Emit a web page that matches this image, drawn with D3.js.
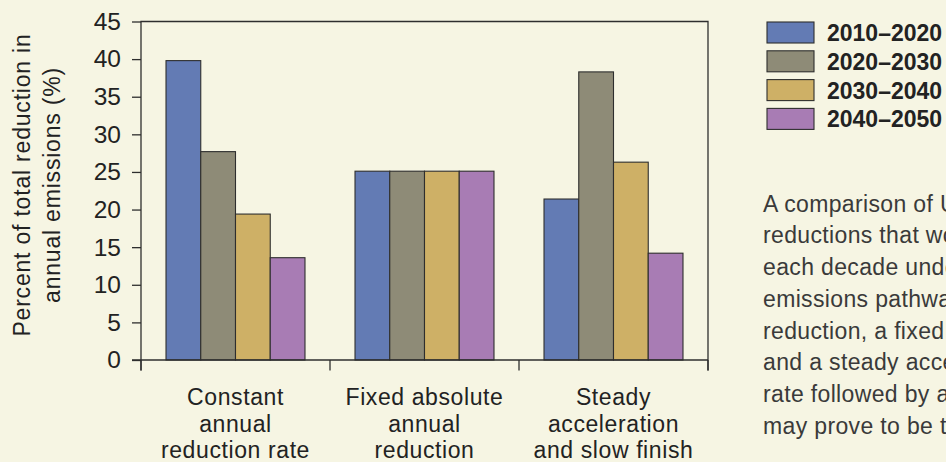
<!DOCTYPE html>
<html>
<head>
<meta charset="utf-8">
<script src="https://cdn.jsdelivr.net/npm/d3@7/dist/d3.min.js"></script>
<style>
  html, body { margin: 0; padding: 0; background: #f6f5e3; overflow: hidden; }
  svg { display: block; }
  text { font-family: "Liberation Sans", Arial, Helvetica, sans-serif; }
</style>
</head>
<body>
<svg id="chart" width="946" height="462"></svg>
<script>
// ---- data ----
const categories = [
  ["Constant", "annual", "reduction rate"],
  ["Fixed absolute", "annual", "reduction"],
  ["Steady", "acceleration", "and slow finish"]
];
const categoryKeys = ["Constant annual reduction rate", "Fixed absolute annual reduction", "Steady acceleration and slow finish"];
const series = ["2010–2020", "2020–2030", "2030–2040", "2040–2050"];
const values2010 = [39.8, 25.1, 21.4];
const values2020 = [27.7, 25.1, 38.3];
const values2030 = [19.4, 25.1, 26.3];
const values2040 = [13.6, 25.1, 14.2];
const yTicks = [0, 5, 10, 15, 20, 25, 30, 35, 40, 45];
const yTitle = ["Percent of total reduction in", "annual emissions (%)"];
const caption = [
  "A comparison of U.S. emissions",
  "reductions that would be needed",
  "each decade under three",
  "emissions pathways: constant",
  "reduction, a fixed absolute amount,",
  "and a steady acceleration of the",
  "rate followed by a slow finish that",
  "may prove to be the most realistic."
];
const colors = ["#637bb4", "#8e8b77", "#ceb066", "#a87cb4"];

const seriesValues = [values2010, values2020, values2030, values2040];

// ---- layout ----
const svg = d3.select("#chart");
const W = 946, H = 462;
const mLeft = 141, mRight = 708, mTop = 21.5, mBottom = 360;
const ink = "#2e2e2e";

svg.append("rect").attr("width", W).attr("height", H).attr("fill", "#f6f5e3");

const x0 = d3.scaleBand().domain(categoryKeys).range([mLeft, mRight]).paddingInner(0).paddingOuter(0);
const x1 = d3.scaleBand().domain(series).range([0, x0.bandwidth()]).paddingInner(0).paddingOuter(0.72);
const y = d3.scaleLinear().domain([0, 45]).range([mBottom, mTop]);
const color = d3.scaleOrdinal().domain(series).range(colors);

// bars
const groups = svg.append("g").selectAll("g")
  .data(categoryKeys)
  .join("g")
  .attr("transform", d => `translate(${x0(d)},0)`);

groups.selectAll("rect")
  .data((d, ci) => series.map((s, si) => ({ s, v: seriesValues[si][ci] })))
  .join("rect")
  .attr("x", d => x1(d.s))
  .attr("y", d => y(d.v))
  .attr("width", x1.bandwidth())
  .attr("height", d => y(0) - y(d.v))
  .attr("fill", d => color(d.s))
  .attr("stroke", ink)
  .attr("stroke-width", 1.1);

// y axis
const yAxis = d3.axisLeft(y).tickValues(yTicks).tickSize(9).tickPadding(11);
const gy = svg.append("g").attr("transform", `translate(${mLeft},0)`).call(yAxis);
gy.select(".domain").remove();
gy.selectAll(".tick line").attr("stroke", ink).attr("stroke-width", 1.3);
gy.selectAll(".tick text")
  .attr("font-size", 24.5)
  .attr("fill", "#222")
  .attr("font-family", "'Liberation Sans', Arial, sans-serif");

// x axis: band boundary ticks
const boundaries = categoryKeys.map(k => x0(k)).concat([mRight]);
svg.append("g").selectAll("line")
  .data(boundaries)
  .join("line")
  .attr("x1", d => d).attr("x2", d => d)
  .attr("y1", mBottom).attr("y2", mBottom + 10.5)
  .attr("stroke", ink).attr("stroke-width", 1.3);

// frame
svg.append("path")
  .attr("d", `M${mLeft},${mBottom + 10.5}V${mTop}H${mRight}V${mBottom + 10.5}`)
  .attr("fill", "none").attr("stroke", ink).attr("stroke-width", 1.3);
svg.append("line")
  .attr("x1", mLeft - 9).attr("x2", mRight)
  .attr("y1", mBottom).attr("y2", mBottom)
  .attr("stroke", ink).attr("stroke-width", 1.3);

// category labels
const catG = svg.append("g");
categoryKeys.forEach((k, i) => {
  const cx = x0(k) + x0.bandwidth() / 2;
  const t = catG.append("text")
    .attr("x", cx)
    .attr("y", 405)
    .attr("text-anchor", "middle")
    .attr("font-size", 23)
    .attr("letter-spacing", 0.6)
    .attr("fill", "#222");
  categories[i].forEach((line, li) => {
    t.append("tspan")
      .attr("x", cx)
      .attr("dy", li === 0 ? 0 : 26.6)
      .text(line);
  });
});

// y title
const yt = svg.append("text")
  .attr("transform", `translate(29.5,185) rotate(-90)`)
  .attr("text-anchor", "middle")
  .attr("font-size", 23)
  .attr("letter-spacing", 0.8)
  .attr("fill", "#222");
yTitle.forEach((line, li) => {
  yt.append("tspan").attr("x", 0).attr("dy", li === 0 ? 0 : 30.7).text(line);
});

// legend
const lg = svg.append("g");
series.forEach((s, i) => {
  const yy = 22 + i * 28.8;
  lg.append("rect")
    .attr("x", 767).attr("y", yy)
    .attr("width", 47).attr("height", 21)
    .attr("fill", color(s))
    .attr("stroke", ink).attr("stroke-width", 1.1);
  lg.append("text")
    .attr("x", 827).attr("y", yy + 19)
    .attr("font-size", 23)
    .attr("font-weight", "bold")
    .attr("fill", "#222")
    .text(s);
});

// caption (cut off at the right edge, as in the original figure)
const cap = svg.append("text")
  .attr("x", 763).attr("y", 211.7)
  .attr("font-size", 23)
  .attr("letter-spacing", 0.35)
  .attr("fill", "#3a3a3a");
caption.forEach((line, li) => {
  cap.append("tspan").attr("x", 763).attr("dy", li === 0 ? 0 : 31.7).text(line);
});
</script>
</body>
</html>
